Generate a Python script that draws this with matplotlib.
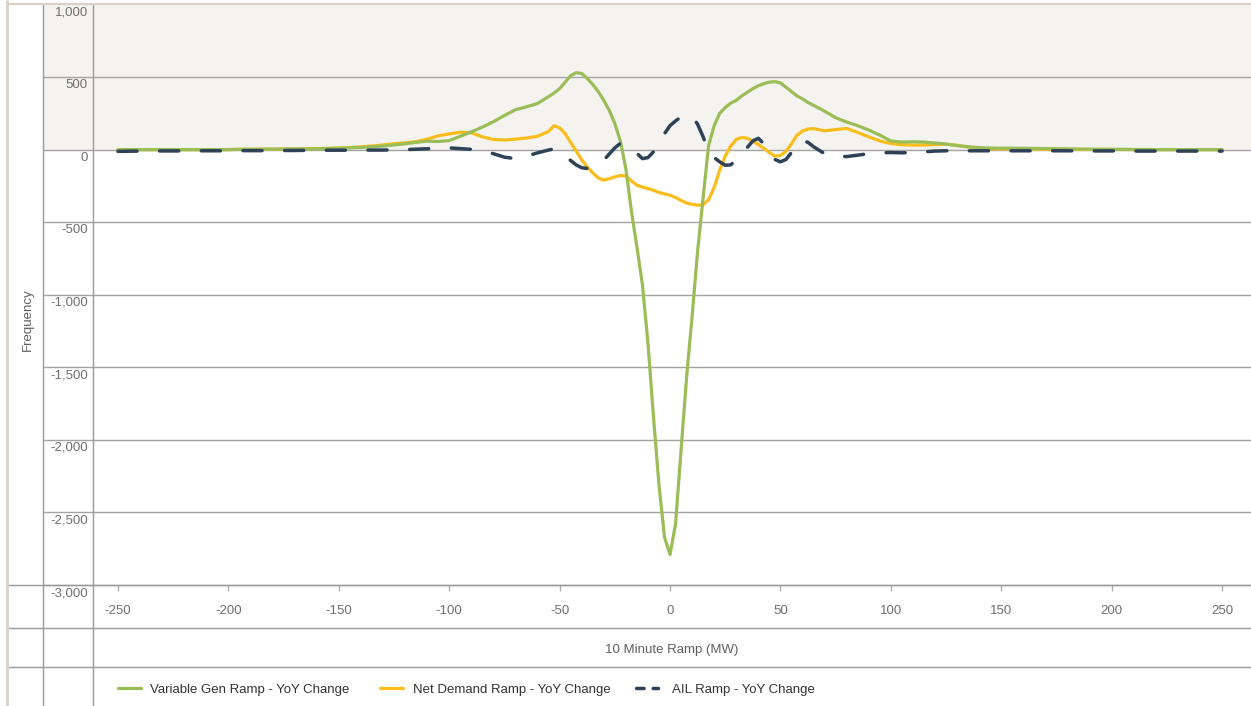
import numpy as np
import matplotlib
matplotlib.use("Agg")
import matplotlib.pyplot as plt
from matplotlib import transforms
from matplotlib.lines import Line2D

plt.rcParams['font.family'] = ['Liberation Sans', 'DejaVu Sans']

# ---- data -----------------------------------------------------------------
ramp_left = np.arange(-250, -59, 5)            # -250 .. -60
ramp_mid = np.arange(-55, 65.1, 2.5)           # -55 .. 65
ramp_right = np.arange(70, 251, 5)             # 70 .. 250
ramp_mw = np.concatenate([ramp_left, ramp_mid, ramp_right])

variable_gen = [
    # -250 .. -60
    0, 0, 0, 0, 0, 0, 0, 0, 0, 0, 0,
    2, 2, 3, 3, 4, 5, 5, 6, 8, 10,
    12, 15, 20, 25, 32, 40, 50, 58, 56, 62,
    92, 122, 155, 192, 235, 275, 295, 318,
    # -55 .. 65
    365, 390, 420, 465, 510, 530, 525, 490, 450, 400, 340, 270, 180, 60,
    -130, -420, -670, -930, -1330, -1840, -2310, -2670, -2790,
    -2580, -2070, -1570, -1150, -700, -330, 30, 165, 250, 290, 320, 340,
    370, 395, 420, 440, 455, 465, 468, 460, 430, 400, 370, 350, 325, 305,
    # 70 .. 250
    265, 220, 190, 165, 135, 100, 60, 52, 54, 52, 46, 38, 28, 20, 14, 11,
    10, 10, 9, 8, 7, 6, 5, 4, 3, 3, 2, 2, 1, 1, 0, 0, 0, 0, 0, 0, 0,
]

net_demand = [
    # -250 .. -60
    0, 0, 0, 0, 0, 0, 0, 0, 0, 0, 0,
    2, 2, 3, 3, 4, 5, 6, 7, 9, 11,
    14, 19, 25, 32, 40, 47, 55, 72, 95, 108,
    120, 116, 88, 70, 66, 72, 80, 92,
    # -55 .. 65
    125, 165, 150, 110, 50, -10, -70, -120, -160, -195, -210, -200, -188,
    -178, -182, -215, -245, -258, -268, -280, -295, -305, -314,
    -330, -350, -368, -377, -383, -380, -345, -260, -141, -45, 25, 70, 84,
    78, 58, 35, 8, -20, -45, -40, -12, 40, 100, 128, 142, 145,
    # 70 .. 250
    130, 138, 146, 118, 88, 60, 42, 34, 31, 32, 35, 38, 30, 18, 10, 6,
    5, 4, 3, 3, 2, 2, 2, 1, 1, 1, 1, 0, 0, 0, 0, 0, 0, 0, 0, 0, 0,
]

ail = [
    # -250 .. -60
    -12, -11, -10, -10, -9, -9, -9, -8, -8, -8, -8,
    -7, -7, -7, -6, -6, -6, -5, -5, -4, -4,
    -4, -3, -3, -3, -2, 0, 3, 6, 10, 12,
    7, 2, -5, -28, -52, -62, -45, -22,
    # -55 .. 65
    -3, 5, -18, -42, -75, -105, -125, -130, -118, -95, -72, -30, 12, 43,
    35, 8, -25, -62, -55, -15, 45, 110, 165,
    198, 225, 238, 230, 175, 88, -10, -55, -84, -108, -105, -70, -30,
    15, 60, 78, 40, -20, -68, -84, -68, -20, 40, 62, 50, 20,
    # 70 .. 250
    -28, -45, -48, -38, -28, -22, -20, -22, -20, -15, -10, -8, -8, -8, -8, -8,
    -8, -8, -8, -8, -8, -8, -8, -9, -9, -9, -9, -9, -10, -10, -10, -10,
    -10, -10, -10, -10, -10,
]

series_names = ["Variable Gen Ramp - YoY Change",
                "Net Demand Ramp - YoY Change",
                "AIL Ramp - YoY Change"]
x_ticks = np.arange(-250, 251, 50)
y_ticks = np.arange(-3000, 1001, 500)

# ---- styling ----------------------------------------------------------------
GREEN = '#9bbd57'
YELLOW = '#fbbd1a'
NAVY = '#2e4257'
BAND = '#f4f3f0'
GRID = '#a3a3a3'
FRAME = '#9a9a9a'
BEIGE = '#d9d1c8'
TICK_TXT = '#6f6f6f'

W, H = 1251, 706
fig = plt.figure(figsize=(W / 100, H / 100), dpi=100)
fig.patch.set_facecolor('white')

# pixel layout of the plotting area
px_left, px_right, px_top, px_bottom = 93, 1251, 4.5, 585
px_label_col = 43
ax = fig.add_axes([px_left / W, 1 - px_bottom / H,
                   (px_right - px_left) / W, (px_bottom - px_top) / H])
ax.set_xlim(-261.3, 263.1)
ax.set_ylim(-3000, 1000)
ax.patch.set_alpha(0)
for s in ax.spines.values():
    s.set_visible(False)

blend = transforms.blended_transform_factory(ax.transAxes, ax.transData)
x_col = (px_label_col - px_left) / (px_right - px_left)

# shaded band above zero (extends into the label column)
ax.fill_between([x_col, 1], [0, 0], [1000, 1000], transform=blend,
                color=BAND, lw=0, zorder=0, clip_on=False)

# horizontal gridlines (the top one is covered by the outer border)
for v in y_ticks[:-1]:
    ax.plot([x_col, 1], [v, v], transform=blend, color=GRID, lw=1.0,
            zorder=1, clip_on=False, solid_capstyle='butt')

# y tick labels sitting just below each gridline
label_tr = transforms.offset_copy(blend, fig=fig, x=0, y=-1.5, units='points')
x_lab = (88 - px_left) / (px_right - px_left)
for v in y_ticks:
    ax.text(x_lab, v, f"{v:,}", transform=label_tr,
            ha='right', va='top', fontsize=9.5, color=TICK_TXT, clip_on=False)
ax.set_yticks([])

# x ticks
ax.set_xticks(x_ticks)
ax.set_xticklabels([str(t) for t in x_ticks])
ax.tick_params(axis='x', direction='out', length=4, width=1, color='#b0b0b0',
               pad=10.5, labelsize=9.5, labelcolor=TICK_TXT)

# series
ax.plot(ramp_mw, net_demand, color=YELLOW, lw=2.3, zorder=3,
        solid_joinstyle='round', solid_capstyle='round')
ax.plot(ramp_mw, variable_gen, color=GREEN, lw=2.3, zorder=4,
        solid_joinstyle='round', solid_capstyle='round')
ax.plot(ramp_mw, ail, color=NAVY, lw=2.5, zorder=5, dashes=(5.5, 6.5),
        dash_capstyle='round', dash_joinstyle='round')

# frame lines of the surrounding table layout (figure pixel coordinates)
def fig_line(xs, ys, color, lw):
    fig.add_artist(Line2D([x / W for x in xs], [1 - y / H for y in ys],
                          color=color, lw=lw, solid_capstyle='butt'))

fig_line([8, W], [px_bottom, px_bottom], FRAME, 1.0)
fig_line([8, W], [628, 628], FRAME, 1.0)
fig_line([8, W], [667, 667], FRAME, 1.0)
fig_line([px_label_col, px_label_col], [4, H], FRAME, 1.0)
fig_line([px_left, px_left], [4, H], FRAME, 1.0)
fig_line([7, 7], [0, H], BEIGE, 2.0)
fig_line([7, W], [4.3, 4.3], BEIGE, 1.6)

# axis titles
fig.text((px_left + px_right) / 2 / W, 1 - 650.5 / H, "10 Minute Ramp (MW)",
         ha='center', va='center', fontsize=9.5, color='#5f5f5f')
fig.text(28 / W, 1 - 320 / H, "Frequency", rotation=90,
         ha='center', va='center', fontsize=9.5, color='#5f5f5f')

# legend row
ly = 1 - 689.5 / H
line_y = 1 - 688 / H
legend_items = [
    (118, 141, 150, dict(color=GREEN, lw=2.3, solid_capstyle='round')),
    (380, 403, 413, dict(color=YELLOW, lw=2.3, solid_capstyle='round')),
    (636, 658, 672, dict(color=NAVY, lw=2.5, dashes=(2.2, 2.6),
                         dash_capstyle='round')),
]
for (x0, x1, xt, style), name in zip(legend_items, series_names):
    fig.add_artist(Line2D([x0 / W, x1 / W], [line_y, line_y], **style))
    fig.text(xt / W, ly, name, ha='left', va='center', fontsize=9.5,
             color='#333333')

fig.savefig("out.png", dpi=100, facecolor='white')
